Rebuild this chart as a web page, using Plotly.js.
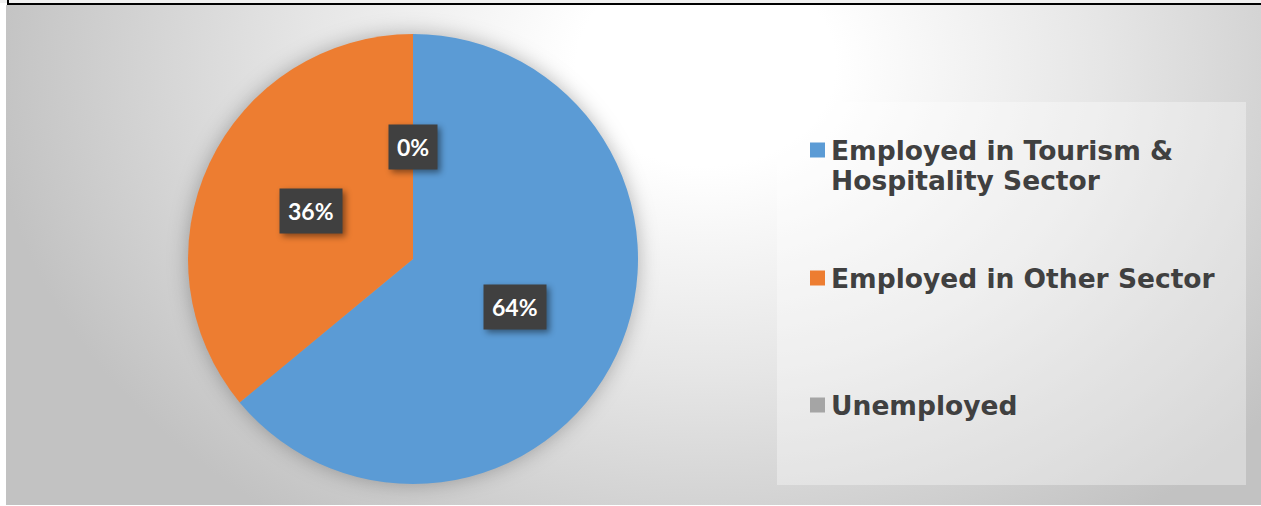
<!DOCTYPE html>
<html>
<head>
<meta charset="utf-8">
<script src="https://cdn.plot.ly/plotly-3.0.1.min.js"></script>
<style>
  html, body { margin: 0; padding: 0; background: #ffffff; width: 1261px; height: 506px; overflow: hidden; }
  #topstrip { position: absolute; left: 0; top: 0; width: 1261px; height: 3px; background: #f0f0f0; }
  #topline { position: absolute; left: 8px; top: 3px; width: 1253px; height: 2px; background: #000; }
  #leftline { position: absolute; left: 7px; top: 0; width: 2px; height: 5px; background: #000; }
  #bg { position: absolute; left: 6px; top: 5px; width: 1255px; height: 500px;
        background: radial-gradient(ellipse 720px 560px at 700px 60px, #ffffff 0%, #ffffff 18%, #e6e6e6 55%, #c2c2c2 100%); }
  #chart { position: absolute; left: 0; top: 0; width: 1261px; height: 506px; }
  #chart .pielayer { filter: drop-shadow(0px 0px 10px rgba(0,0,0,0.28)); }
  #chart .annotation.pct .bg { filter: drop-shadow(3px 3px 3px rgba(0,0,0,0.45)); }
</style>
</head>
<body>
<div id="topstrip"></div>
<div id="bg"></div>
<div id="topline"></div>
<div id="leftline"></div>
<div id="chart"></div>
<script>
// ---- data ----
const categories = ["Employed in Tourism & Hospitality Sector", "Employed in Other Sector", "Unemployed"];
const legendLines = [["Employed in Tourism &", "Hospitality Sector"], ["Employed in Other Sector"], ["Unemployed"]];
const values = [64, 36, 0];
const percentLabels = ["64%", "36%", "0%"];
const colors = ["#5b9bd5", "#ed7d31", "#a5a5a5"];

// ---- layout helpers ----
const W = 1261, H = 506;
const px = x => x / W;
const py = y => 1 - y / H;

const pieCx = 413, pieCy = 259, pieR = 225;
const domainX = [px(pieCx - pieR), px(pieCx + pieR)];
const domainY = [py(pieCy + pieR), py(pieCy - pieR)];

const total = values.reduce((a, b) => a + b, 0);

// percentage label annotations placed at half radius along each slice's mid-angle
const annotations = [];
let cum = 0;
values.forEach((v, i) => {
  const mid = (cum + v / 2) / total * 2 * Math.PI;
  cum += v;
  const lx = pieCx + 0.5 * pieR * Math.sin(mid);
  const ly = pieCy - 0.5 * pieR * Math.cos(mid);
  annotations.push({
    x: px(lx), y: py(ly), xref: "paper", yref: "paper",
    text: "<b>" + percentLabels[i] + "</b>", showarrow: false,
    font: { family: "Lato, sans-serif", size: 23, color: "#ffffff", weight: 700 },
    bgcolor: "#404040", borderpad: 8, xanchor: "center", yanchor: "middle"
  });
});

// custom legend
const legendBox = { x0: 777, x1: 1246, y0: 102, y1: 485 };
const entryY = [150, 278, 405];
const lineGap = 31;
const shapes = [{
  type: "rect", xref: "paper", yref: "paper",
  x0: px(legendBox.x0), x1: px(legendBox.x1), y0: py(legendBox.y1), y1: py(legendBox.y0),
  fillcolor: "rgba(255,255,255,0.35)", line: { width: 0 }, layer: "below"
}];
legendLines.forEach((lines, i) => {
  shapes.push({
    type: "rect", xref: "paper", yref: "paper",
    x0: px(810), x1: px(825), y0: py(entryY[i] + 7.5), y1: py(entryY[i] - 7.5),
    fillcolor: colors[i], line: { width: 0 }
  });
  lines.forEach((t, j) => {
    annotations.push({
      x: px(829), y: py(entryY[i] + j * lineGap), xref: "paper", yref: "paper",
      text: t, showarrow: false, xanchor: "left", yanchor: "middle",
      font: { family: "DejaVu Sans, sans-serif", size: 26.5, color: "#404040", weight: 700 }
    });
  });
});

const trace = {
  type: "pie",
  labels: categories,
  values: values,
  marker: { colors: colors, line: { width: 0 } },
  sort: false,
  direction: "clockwise",
  rotation: 0,
  textinfo: "none",
  hoverinfo: "label+percent",
  domain: { x: domainX, y: domainY },
  showlegend: false
};

const layout = {
  width: W, height: H,
  margin: { l: 0, r: 0, t: 0, b: 0 },
  paper_bgcolor: "rgba(0,0,0,0)",
  plot_bgcolor: "rgba(0,0,0,0)",
  showlegend: false,
  shapes: shapes,
  annotations: annotations
};

Plotly.newPlot("chart", [trace], layout, { displayModeBar: false, staticPlot: true }).then(() => {
  document.querySelectorAll("#chart .annotation").forEach((el, k) => {
    if (k < percentLabels.length) el.classList.add("pct");
  });
});
</script>
</body>
</html>
